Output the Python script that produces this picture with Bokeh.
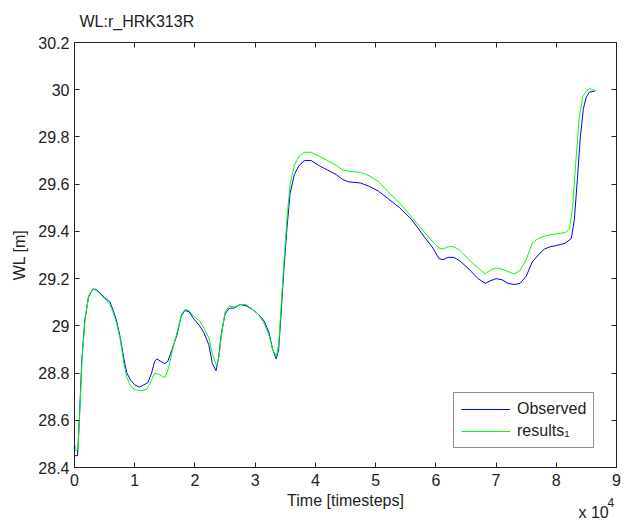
from bokeh.plotting import figure
from bokeh.models import (Range1d, FixedTicker, CustomJSTickFormatter, LinearAxis,
                          Label, Legend, LegendItem)
from bokeh.embed import file_html
from bokeh.resources import INLINE

# ---------------- data ----------------
title_text = "WL:r_HRK313R"
x_label = "Time [timesteps]"
y_label = "WL [m]"
series_names = ["Observed", "results\u2081"]
x_multiplier_text = "x 10"
x_multiplier_exp = "4"

obs_t = [0, 500, 800, 1200, 1700, 2300, 3000, 3500, 4200, 5000, 5900, 6500, 7000, 7600,
         8200, 8700, 9300, 10000, 10800, 11500, 12200, 12800, 13300, 13700, 14300, 15000,
         15500, 16200, 17000, 17700, 18300, 19000, 19800, 20800, 21500, 22300, 22900,
         23500, 23900, 24400, 25000, 25700, 26500, 27500, 28500, 29500, 30500, 31500,
         32300, 32900, 33500, 33900, 34300, 34800, 35300, 35800, 36500, 37300, 38200,
         39300, 40500, 42000, 43500, 44500, 45500, 47500, 49000, 50500, 52000, 54000,
         56000, 58000, 59500, 60500, 61200, 62000, 63000, 64000, 65500, 67000, 68200,
         69000, 70000, 71000, 72000, 73000, 74000, 75000, 76000, 77000, 78000, 79000,
         80000, 81500, 82500, 83000, 83500, 84000, 84500, 85000, 85500, 86500]
obs_wl = [28.45, 28.45, 28.60, 28.85, 29.02, 29.12, 29.155, 29.155, 29.14, 29.12, 29.10,
          29.06, 29.02, 28.95, 28.86, 28.80, 28.77, 28.75, 28.74, 28.75, 28.76, 28.80,
          28.85, 28.86, 28.85, 28.84, 28.85, 28.90, 28.96, 29.04, 29.065, 29.06, 29.03,
          29.00, 28.97, 28.92, 28.84, 28.81, 28.86, 28.97, 29.05, 29.075, 29.075, 29.09,
          29.085, 29.07, 29.05, 29.02, 28.97, 28.90, 28.86, 28.90, 29.05, 29.25, 29.42,
          29.56, 29.64, 29.68, 29.70, 29.70, 29.68, 29.66, 29.64, 29.62, 29.61, 29.605,
          29.59, 29.57, 29.54, 29.50, 29.45, 29.38, 29.33, 29.285, 29.28, 29.29, 29.29,
          29.275, 29.24, 29.20, 29.18, 29.19, 29.20, 29.195, 29.18, 29.175, 29.18, 29.21,
          29.27, 29.30, 29.325, 29.335, 29.34, 29.35, 29.37, 29.45, 29.62, 29.80, 29.92,
          29.97, 29.99, 29.995]

res_t = [0, 300, 600, 900, 1300, 1800, 2400, 3100, 3600, 4300, 5000, 5900, 6500, 7000,
         7600, 8200, 8700, 9300, 10000, 11000, 12000, 12600, 13300, 14000, 15000, 15600,
         16300, 17100, 17800, 18400, 19000, 19800, 20800, 21500, 22300, 22900, 23600,
         24000, 24400, 25000, 25700, 26500, 27500, 28500, 29500, 30500, 31500, 32300,
         32900, 33500, 33900, 34300, 34800, 35300, 35800, 36500, 37300, 38200, 39300,
         40500, 42000, 43500, 44500, 45500, 47500, 49000, 50500, 52000, 54000, 56000,
         58000, 59500, 60500, 61200, 62000, 63000, 64000, 65500, 67000, 68200, 69000,
         70000, 71000, 72000, 73000, 74000, 75000, 76000, 77000, 78000, 79000, 80000,
         81500, 82200, 82700, 83200, 83800, 84400, 85000, 85500, 86300, 86500]
res_wl = [28.50, 28.47, 28.48, 28.65, 28.88, 29.04, 29.13, 29.155, 29.15, 29.135, 29.115,
          29.09, 29.05, 29.01, 28.94, 28.84, 28.78, 28.745, 28.73, 28.725, 28.73, 28.76,
          28.80, 28.795, 28.78, 28.82, 28.90, 28.98, 29.05, 29.07, 29.065, 29.04, 29.02,
          28.99, 28.95, 28.88, 28.83, 28.87, 28.96, 29.06, 29.085, 29.08, 29.09, 29.09,
          29.07, 29.05, 29.01, 28.96, 28.90, 28.87, 28.92, 29.08, 29.28, 29.46, 29.60,
          29.68, 29.72, 29.735, 29.735, 29.72, 29.70, 29.68, 29.66, 29.655, 29.65, 29.635,
          29.61, 29.57, 29.52, 29.46, 29.40, 29.355, 29.33, 29.325, 29.335, 29.335, 29.32,
          29.28, 29.245, 29.22, 29.235, 29.245, 29.24, 29.23, 29.22, 29.235, 29.28, 29.35,
          29.37, 29.38, 29.385, 29.39, 29.395, 29.41, 29.50, 29.68, 29.88, 29.97, 29.995,
          30.005, 29.998, 29.997]

x_ticks = [0, 10000, 20000, 30000, 40000, 50000, 60000, 70000, 80000, 90000]
y_ticks = [28.4, 28.6, 28.8, 29.0, 29.2, 29.4, 29.6, 29.8, 30.0, 30.2]

# ---------------- style ----------------
FONT = "Liberation Sans"
TXT = "#222222"

p = figure(width=629, height=526, output_backend="svg", toolbar_location=None,
           x_range=Range1d(0, 90000), y_range=Range1d(28.4, 30.2),
           min_border_left=74, min_border_right=13, min_border_top=42,
           min_border_bottom=59)
p.title.text = ""
p.grid.visible = False
p.background_fill_color = "white"
p.border_fill_color = "white"
p.outline_line_color = "#222222"
p.outline_line_width = 1

xfmt = CustomJSTickFormatter(code="return (tick/10000).toFixed(0);")
yfmt = CustomJSTickFormatter(code="return String(parseFloat(tick.toFixed(1)));")
blank = CustomJSTickFormatter(code="return '';")

for ax, fmt, ticks in ((p.xaxis[0], xfmt, x_ticks), (p.yaxis[0], yfmt, y_ticks)):
    ax.ticker = FixedTicker(ticks=ticks)
    ax.formatter = fmt
    ax.major_tick_in = 5
    ax.major_tick_out = 0
    ax.minor_tick_line_color = None
    ax.major_tick_line_color = "#222222"
    ax.axis_line_color = "#222222"
    ax.major_label_text_font = FONT
    ax.major_label_text_font_size = "16px"
    ax.major_label_text_color = TXT
    ax.axis_label_text_font = FONT
    ax.axis_label_text_font_size = "16px"
    ax.axis_label_text_font_style = "normal"
    ax.axis_label_text_color = TXT

p.xaxis.axis_label = x_label
p.yaxis.axis_label = y_label
p.xaxis.major_label_standoff = 6
p.xaxis.axis_label_standoff = 3
p.yaxis.major_label_standoff = 5
p.yaxis.axis_label_standoff = 7

top = LinearAxis(ticker=FixedTicker(ticks=x_ticks), formatter=blank, major_tick_in=5,
                 major_tick_out=0, minor_tick_line_color=None, axis_line_color=None,
                 major_tick_line_color="#222222", major_label_standoff=0)
right = LinearAxis(ticker=FixedTicker(ticks=y_ticks), formatter=blank, major_tick_in=5,
                   major_tick_out=0, minor_tick_line_color=None, axis_line_color=None,
                   major_tick_line_color="#222222", major_label_standoff=0)
p.add_layout(top, "above")
p.add_layout(right, "right")

r_obs = p.line(obs_t, obs_wl, line_color="#0000ff", line_width=1)
r_res = p.line(res_t, res_wl, line_color="#00ff00", line_width=1)

legend = Legend(items=[LegendItem(label=series_names[0], renderers=[r_obs]),
                       LegendItem(label=series_names[1], renderers=[r_res])],
                location=(379, 19), label_text_font=FONT, label_text_font_size="16px",
                label_text_color=TXT, glyph_width=49, glyph_height=16, label_height=16,
                label_standoff=7, spacing=4, padding=7, margin=0,
                border_line_color="#222222", border_line_width=1,
                background_fill_color="white", background_fill_alpha=1)
p.add_layout(legend, "center")

# texts outside the frame, placed in side panels (no clipping there)
p.add_layout(Label(x=5, y=21, x_units="screen", y_units="screen", text=title_text,
                   text_font=FONT, text_font_size="16px", text_color=TXT,
                   text_baseline="middle", text_align="left"), "above")
p.add_layout(Label(x=504, y=-487, x_units="screen", y_units="screen", text=x_multiplier_text,
                   text_font=FONT, text_font_size="16px", text_color=TXT,
                   text_baseline="middle", text_align="left"), "above")
p.add_layout(Label(x=533, y=18, x_units="screen", y_units="screen", text=x_multiplier_exp,
                   text_font=FONT, text_font_size="12px", text_color=TXT,
                   text_baseline="middle", text_align="left"), "below")

open("out.html", "w").write(file_html(p, INLINE))
